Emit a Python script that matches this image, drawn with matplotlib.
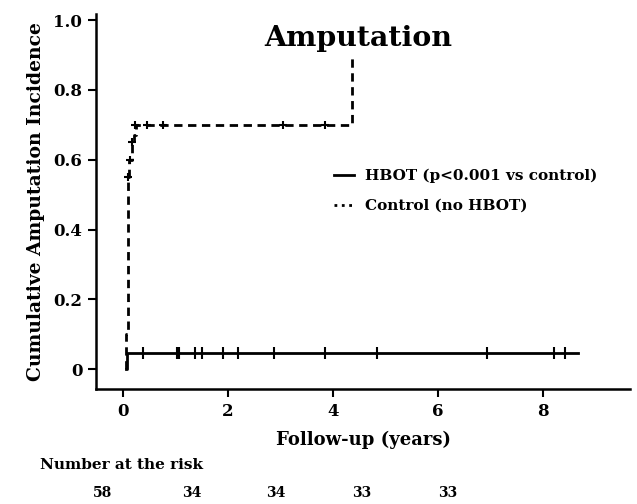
"""
Amputation incidence Kaplan-Meier style chart, HBOT vs control
"""

import matplotlib
matplotlib.use("Agg")
import matplotlib.pyplot as plt
from matplotlib.lines import Line2D

plt.rcParams["font.family"] = "DejaVu Serif"
plt.rcParams["font.weight"] = "bold"

# control group curve (years, cumulative incidence)
control_t = [0.05, 0.06, 0.09, 0.12, 0.16, 0.20, 0.25, 4.37]
control_y = [0.00, 0.10, 0.55, 0.60, 0.65, 0.67, 0.70, 0.90]
control_cens_t = [0.10, 0.13, 0.17, 0.23, 0.46, 0.76, 3.05, 3.85]
control_cens_y = [0.55, 0.60, 0.65, 0.70, 0.70, 0.70, 0.70, 0.70]

# HBOT group curve
hbot_t = [0.05, 0.08, 8.67]
hbot_y = [0.00, 0.046, 0.046]
hbot_cens_t = [0.375, 1.02, 1.07, 1.37, 1.5, 1.9, 2.18, 2.88, 3.85, 4.83, 6.94, 8.21, 8.42]

x_ticks = [0, 2, 4, 6, 8]
y_ticks = [0, 0.2, 0.4, 0.6, 0.8, 1.0]
y_tick_labels = ["0", "0.2", "0.4", "0.6", "0.8", "1.0"]

risk_numbers = ["58", "34", "34", "33", "33"]
risk_x_px = [102, 192, 276, 362, 448]

fig = plt.figure(figsize=(6.37, 5.04), dpi=100)
ax = fig.add_axes([0.151, 0.228, 0.838, 0.744])

dash = (0, (3, 2))
ax.plot(control_t, control_y, color="black", lw=2, linestyle=dash, drawstyle="steps-post")
ax.plot(control_cens_t, control_cens_y, "+", color="black", ms=6, mew=1.5)
ax.plot(hbot_t, hbot_y, color="black", lw=2, drawstyle="steps-post")
ax.plot(hbot_cens_t, [hbot_y[-1]] * len(hbot_cens_t), "|", color="black", ms=8, mew=1.5)

ax.set_xlim(-0.514, 9.66)
ax.set_ylim(-0.057, 1.017)
ax.set_xticks(x_ticks)
ax.set_yticks(y_ticks)
ax.set_yticklabels(y_tick_labels)
ax.tick_params(direction="out", length=6, width=1.5, labelsize=12, pad=4)
for side in ["top", "right"]:
    ax.spines[side].set_visible(False)
for side in ["left", "bottom"]:
    ax.spines[side].set_linewidth(1.8)

ax.set_ylabel("Cumulative Amputation Incidence", fontsize=13.5, fontweight="bold", labelpad=6)
ax.set_xlabel("Follow-up (years)", fontsize=13, fontweight="bold", labelpad=8)
ax.text(0.49, 0.97, "Amputation", transform=ax.transAxes, fontsize=20.5,
        fontweight="bold", ha="center", va="top")

handles = [Line2D([], [], color="black", lw=2),
           Line2D([], [], color="black", lw=2, linestyle=":")]
ax.legend(handles, ["HBOT (p<0.001 vs control)", "Control (no HBOT)"],
          loc="upper left", bbox_to_anchor=(0.42, 0.625), frameon=False,
          fontsize=11, handlelength=1.3, handletextpad=0.7, labelspacing=1.05)

fig.text(40 / 637, 1 - 465 / 504, "Number at the risk", fontsize=11,
         fontweight="bold", va="center", ha="left")
for xp, n in zip(risk_x_px, risk_numbers):
    fig.text(xp / 637, 1 - 493 / 504, n, fontsize=10, va="center", ha="center")

fig.savefig("out.png", dpi=100)
